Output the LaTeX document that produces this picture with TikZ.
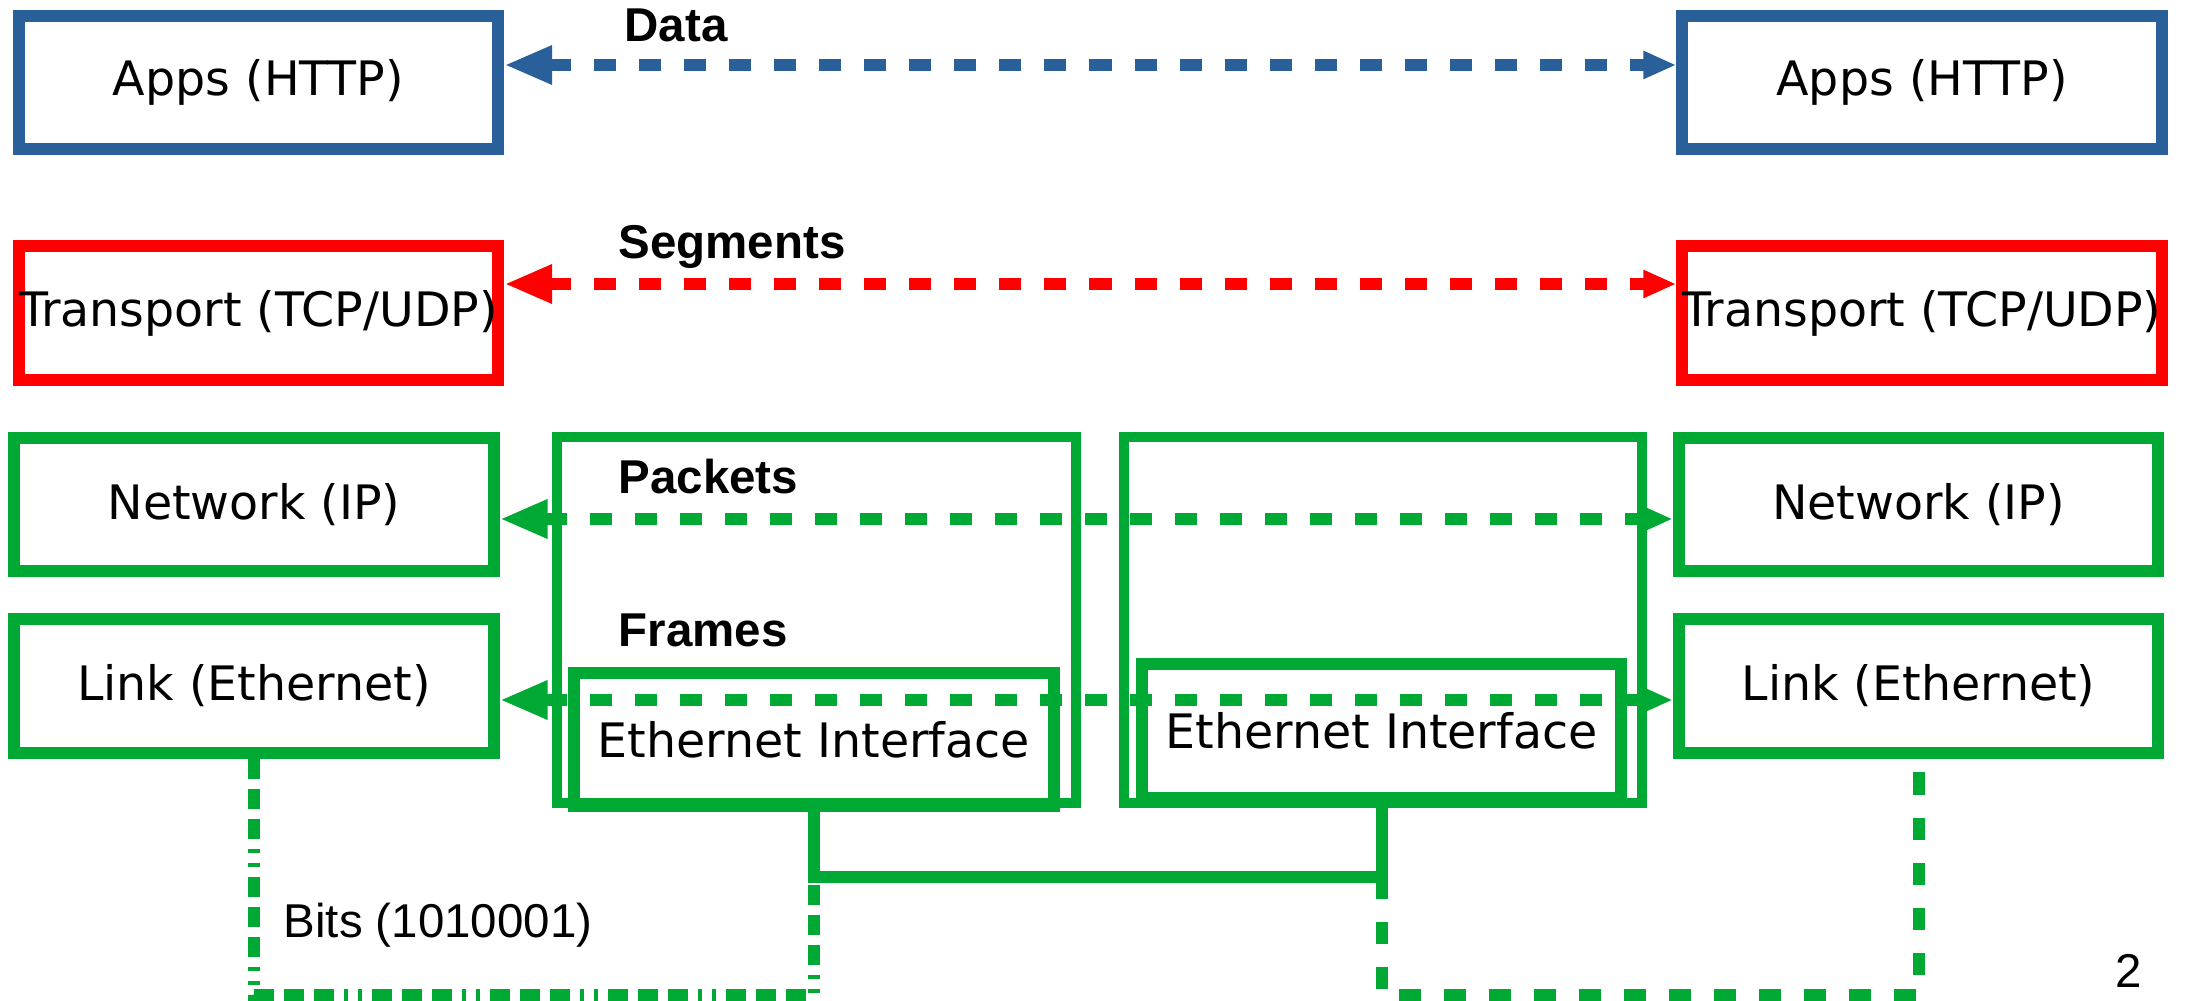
\documentclass[tikz,border=0pt]{standalone}
\usepackage{fontspec}
\setmainfont{DejaVu Sans}
\newfontfamily\liberation{Liberation Sans}
\usetikzlibrary{arrows.meta}
\definecolor{appblue}{RGB}{42, 96, 153}
\definecolor{netgreen}{RGB}{0, 169, 51}

\begin{document}
\fontsize{13.5}{16}\selectfont
\begin{tikzpicture}[x=0.01cm, y=-0.01cm,
    layer/.style={draw=#1, line width=0.12cm, minimum width=4.79cm, minimum height=1.33cm, inner sep=0pt},
    router/.style={draw=netgreen, line width=0.1cm, minimum width=5.18cm, minimum height=3.65cm},
    pdu/.style={anchor=base west, inner sep=0pt, font=\liberation\bfseries},
    flow/.style={line width=0.12cm, dash pattern=on 0.22cm off 0.23cm,
      {Triangle[length=0.48cm,width=0.36cm]}-{Triangle[length=0.33cm,width=0.26cm]}},
    wire/.style={line width=0.12cm, netgreen},
    bits/.style={line width=0.12cm, netgreen,
      dash pattern=on 0.2cm off 0.1cm on 0.2cm off 0.1cm on 0.2cm off 0.1cm on 0.04cm off 0.1cm on 0.04cm off 0.1cm}]
   \useasboundingbox (0,0) rectangle (2188,1001);

   \draw[]
    (258.5,82.5) node[layer=appblue](appsL) {Apps (HTTP)}
    (1922,82.5) node[layer=appblue](appsR) {Apps (HTTP)}
    (258.5,313) node[layer=red](transL) {Transport (TCP/UDP)}
    (1922,313) node[layer=red](transR) {Transport (TCP/UDP)}
    (254,504.5) node[layer=netgreen](netL) {Network (IP)}
    (1918.5,504.5) node[layer=netgreen](netR) {Network (IP)}
    (254,686) node[layer=netgreen](linkL) {Link (Ethernet)}
    (1918.5,686) node[layer=netgreen](linkR) {Link (Ethernet)};

   %routers
   \draw[]
    (816.5,620) node[router](router1) {}
    (1383,620) node[router](router2) {}
    (814,739.5) node[layer=netgreen](eth1) {Ethernet Interface}
    (1381.5,731) node[layer=netgreen](eth2) {Ethernet Interface};

   %physical link
   \coordinate (wireL) at (814,877);
   \draw[bits] (linkL.south) -- (linkL.south |- 0,995) -| (wireL);
   \draw[bits, dash pattern=on 0.22cm off 0.23cm] (eth2.south |- wireL) -- (eth2.south |- 0,995) -| (linkR.south);
   \draw[wire] (eth1.south) -- (wireL) -| (eth2.south);

   %peer flows
   \draw[flow, appblue] (appsL.east |- 0,65) -- (appsR.west |- 0,65);
   \draw[flow, red] (transL.east |- 0,284) -- (transR.west |- 0,284);
   \draw[flow, netgreen] (netL.east |- 0,519) -- (netR.west |- 0,519);
   \draw[flow, netgreen] (linkL.east |- 0,700) -- (linkR.west |- 0,700);

   \node[pdu] (data) at (624,42) {Data};
   \node[pdu] (segments) at (618,259) {Segments};
   \node[pdu] (packets) at (618,494) {Packets};
   \node[pdu] (frames) at (618,647) {Frames};
   \node[anchor=base west, inner sep=0pt, font=\liberation] (bitslabel) at (283,937) {Bits (1010001)};
   \node[anchor=base west, inner sep=0pt, font=\liberation] (pagenum) at (2115,988) {2};
  \end{tikzpicture}
\end{document}
